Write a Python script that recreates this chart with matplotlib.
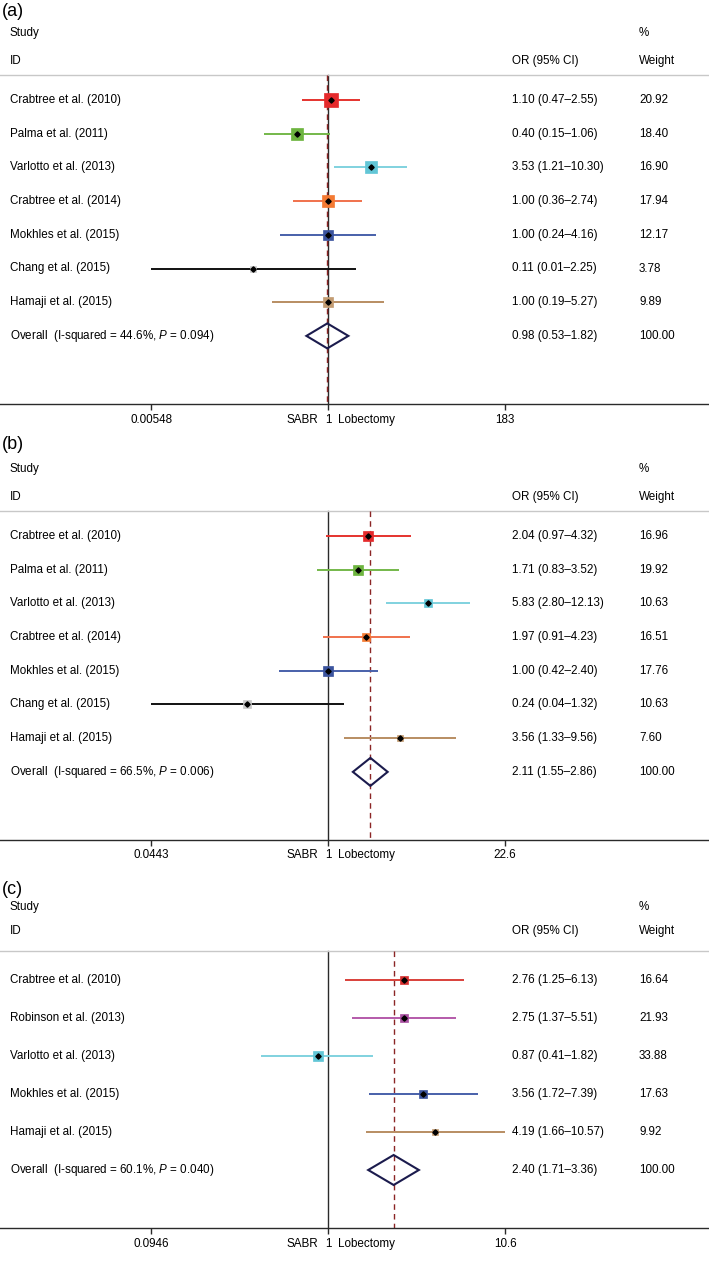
import matplotlib
matplotlib.use("Agg")
import matplotlib.pyplot as plt
import matplotlib.transforms as mtransforms
import numpy as np

plt.rcParams["font.family"] = ["Liberation Sans", "DejaVu Sans"]
plt.rcParams["mathtext.fontset"] = "custom"
plt.rcParams["mathtext.it"] = "Liberation Sans:italic"
plt.rcParams["mathtext.rm"] = "Liberation Sans"

W, H = 709, 1267
DPI = 100
FS = 8.4

# ---- panel (a) ----
studiesA = ["Crabtree et al. (2010)", "Palma et al. (2011)", "Varlotto et al. (2013)",
            "Crabtree et al. (2014)", "Mokhles et al. (2015)", "Chang et al. (2015)",
            "Hamaji et al. (2015)"]
orA = [1.10, 0.40, 3.53, 1.00, 1.00, 0.11, 1.00]
loA = [0.47, 0.15, 1.21, 0.36, 0.24, 0.00548, 0.19]
hiA = [2.55, 1.06, 10.30, 2.74, 4.16, 2.25, 5.27]
weightA = [20.92, 18.40, 16.90, 17.94, 12.17, 3.78, 9.89]
overallA = [0.98, 0.53, 1.82]
hetA = ["44.6%", "0.094"]
ticksA = [0.00548, 1, 183]
tickLabelsA = ["0.00548", "1", "183"]

# ---- panel (b) ----
studiesB = studiesA
orB = [2.04, 1.71, 5.83, 1.97, 1.00, 0.24, 3.56]
loB = [0.97, 0.83, 2.80, 0.91, 0.42, 0.0443, 1.33]
hiB = [4.32, 3.52, 12.13, 4.23, 2.40, 1.32, 9.56]
weightB = [16.96, 19.92, 10.63, 16.51, 17.76, 10.63, 7.60]
overallB = [2.11, 1.55, 2.86]
hetB = ["66.5%", "0.006"]
ticksB = [0.0443, 1, 22.6]
tickLabelsB = ["0.0443", "1", "22.6"]

# ---- panel (c) ----
studiesC = ["Crabtree et al. (2010)", "Robinson et al. (2013)", "Varlotto et al. (2013)",
            "Mokhles et al. (2015)", "Hamaji et al. (2015)"]
orC = [2.76, 2.75, 0.87, 3.56, 4.19]
loC = [1.25, 1.37, 0.41, 1.72, 1.66]
hiC = [6.13, 5.51, 1.82, 7.39, 10.57]
weightC = [16.64, 21.93, 33.88, 17.63, 9.92]
overallC = [2.40, 1.71, 3.36]
hetC = ["60.1%", "0.040"]
ticksC = [0.0946, 1, 10.6]
tickLabelsC = ["0.0946", "1", "10.6"]

lineColAB = ["#e5332e", "#74b84a", "#80d2df", "#f0714c", "#4760aa", "#111111", "#b88d62"]
boxColAB = ["#e52a2c", "#6db43f", "#62c6d6", "#f47a33", "#3b549e", "#c9c9c9", "#c39c72"]
lineColC = ["#d9403a", "#b45aaa", "#80d2df", "#4760aa", "#b88d62"]
boxColC = ["#d62f2f", "#a84fa0", "#62c6d6", "#3b549e", "#c39c72"]


def drawPanel(fig, letter, studies, ors, los, his, weights, overall, het,
              ticks, tickLabels, lineCols, boxCols, lay):
    top = lay["first"] - 100
    ax = fig.add_axes([0, 1 - lay["axis"] / H, 1, (lay["axis"] - top) / H])
    ax.set_xscale("log")
    # value 1 sits at 328 px, outer ticks at 152 / 505 px
    ppd = (505 - 328) / np.log10(ticks[-1])
    ax.set_xlim(10 ** (-328 / ppd), 10 ** ((W - 328) / ppd))
    ax.set_ylim(lay["axis"], top)

    n = len(studies)
    rows = lay["first"] + lay["step"] * np.arange(n + 1)
    grayY = lay["first"] + lay["gray"]
    tr = mtransforms.blended_transform_factory(ax.transAxes, ax.transData)

    # header
    ax.text(2 / W, lay["first"] + lay["label"], f"({letter})", fontsize=13,
            va="center", ha="left", transform=tr)
    ax.text(10 / W, lay["first"] + lay["study"], "Study", fontsize=FS, va="center", transform=tr)
    ax.text(639 / W, lay["first"] + lay["study"], "%", fontsize=FS, va="center", transform=tr)
    ax.text(10 / W, lay["first"] + lay["id"], "ID", fontsize=FS, va="center", transform=tr)
    ax.text(512 / W, lay["first"] + lay["id"], "OR (95% CI)", fontsize=FS, va="center", transform=tr)
    ax.text(639 / W, lay["first"] + lay["id"], "Weight", fontsize=FS, va="center", transform=tr)
    ax.axhline(grayY, color="#c8c8c8", lw=1)

    ax.plot([1, 1], [grayY, lay["axis"]], color="#2a2a2a", lw=1, zorder=1)
    ax.plot([overall[0], overall[0]], [grayY, lay["axis"]], color="#8b2525",
            lw=1, ls=(0, (4, 3)), zorder=2)

    for i in range(n):
        y = rows[i]
        ax.plot([los[i], his[i]], [y, y], color=lineCols[i], lw=1.4, zorder=3,
                solid_capstyle="butt")
        side = lay["box"] * np.sqrt(weights[i]) * 72 / DPI
        ax.plot(ors[i], y, marker="s", ms=side, mfc=boxCols[i], mec=boxCols[i],
                mew=0.5, zorder=4)
        ax.plot(ors[i], y, marker="D", ms=2.7, color="black", zorder=5)
        ax.text(10 / W, y, studies[i], fontsize=FS, va="center", transform=tr)
        ax.text(512 / W, y, f"{ors[i]:.2f} ({los[i]:.2f}\u2013{his[i]:.2f})",
                fontsize=FS, va="center", transform=tr)
        ax.text(639 / W, y, f"{weights[i]:.2f}", fontsize=FS, va="center", transform=tr)

    y = rows[n]
    h = lay["diam"]
    o, l, u = overall
    ax.fill([l, o, u, o, l], [y, y - h, y, y + h, y], fill=False,
            edgecolor="#1b1b4d", lw=1.5, zorder=6)
    ax.text(10 / W, y, f"Overall  (I-squared = {het[0]}, $P$ = {het[1]})",
            fontsize=FS, va="center", transform=tr)
    ax.text(512 / W, y, f"{o:.2f} ({l:.2f}\u2013{u:.2f})", fontsize=FS,
            va="center", transform=tr)
    ax.text(639 / W, y, "100.00", fontsize=FS, va="center", transform=tr)

    ax.set_xticks(ticks)
    ax.set_xticklabels(tickLabels)
    ax.minorticks_off()
    ax.tick_params(axis="x", direction="out", length=4, width=1, color="#2a2a2a",
                   pad=3, labelsize=FS)
    ax.set_yticks([])
    for s in ["top", "left", "right"]:
        ax.spines[s].set_visible(False)
    ax.spines["bottom"].set_color("#2a2a2a")
    ax.spines["bottom"].set_linewidth(1)
    ax.annotate("SABR", xy=(1, 0), xycoords=("data", "axes fraction"),
                xytext=(-7, -7), textcoords="offset points", ha="right", va="top",
                fontsize=FS)
    ax.annotate("Lobectomy", xy=(1, 0), xycoords=("data", "axes fraction"),
                xytext=(7, -7), textcoords="offset points", ha="left", va="top",
                fontsize=FS)
    ax.patch.set_alpha(0)
    return ax


fig = plt.figure(figsize=(W / DPI, H / DPI), dpi=DPI)

layA = dict(first=100, step=33.7, axis=404, label=-88, study=-67, id=-39, gray=-25,
            box=2.9, diam=12.5)
layB = dict(first=536, step=33.7, axis=839.5, label=-91, study=-67, id=-39, gray=-25,
            box=2.2, diam=14)
layC = dict(first=980, step=38, axis=1228, label=-91, study=-73, id=-49, gray=-29,
            box=1.85, diam=15)

drawPanel(fig, "a", studiesA, orA, loA, hiA, weightA, overallA, hetA,
          ticksA, tickLabelsA, lineColAB, boxColAB, layA)
drawPanel(fig, "b", studiesB, orB, loB, hiB, weightB, overallB, hetB,
          ticksB, tickLabelsB, lineColAB, boxColAB, layB)
drawPanel(fig, "c", studiesC, orC, loC, hiC, weightC, overallC, hetC,
          ticksC, tickLabelsC, lineColC, boxColC, layC)

fig.savefig("out.png", dpi=DPI)
